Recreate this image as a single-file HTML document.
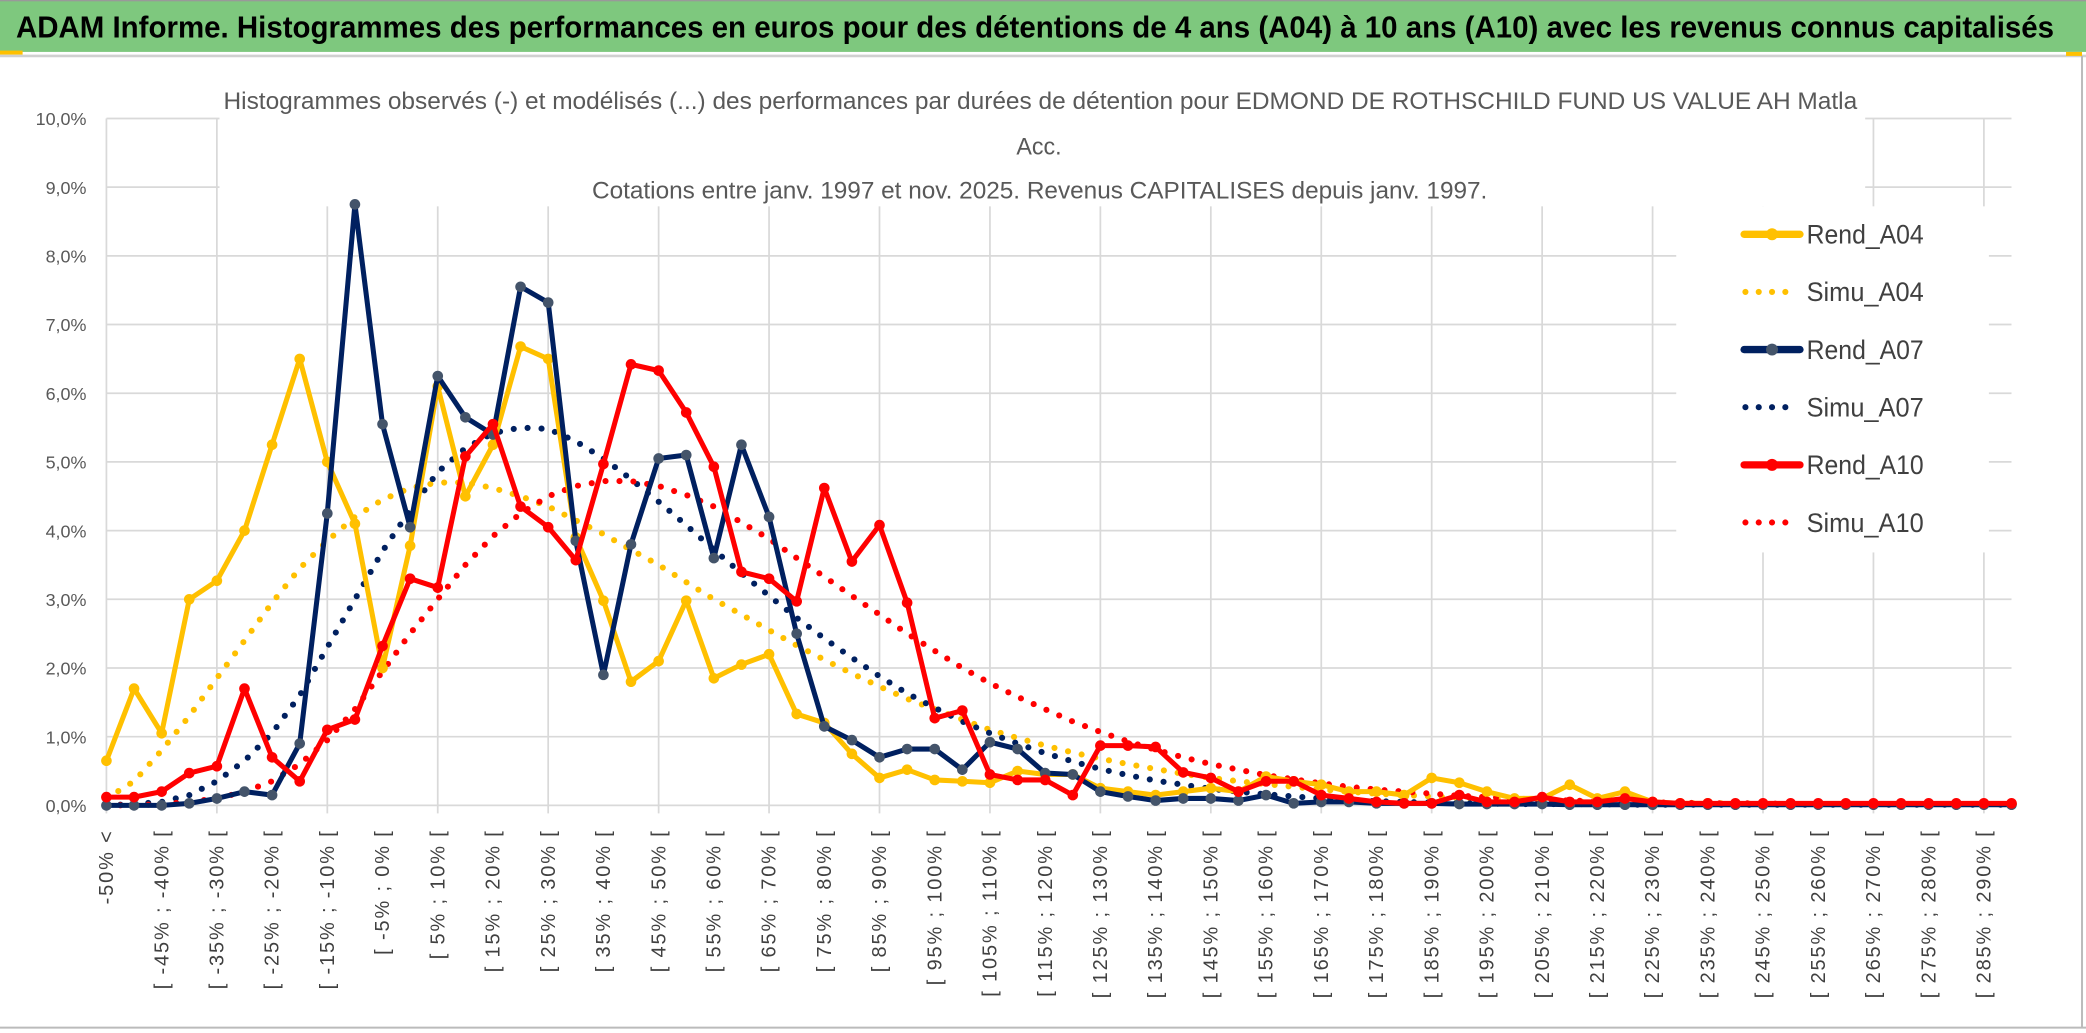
<!DOCTYPE html>
<html><head><meta charset="utf-8"><style>
html,body{margin:0;padding:0;background:#fff;}
svg{display:block;}
text{font-family:"Liberation Sans",sans-serif;}
</style></head><body>
<svg id="chart" width="2086" height="1033" viewBox="0 0 1568 776" preserveAspectRatio="none" xmlns="http://www.w3.org/2000/svg">
<rect x="0" y="0" width="1568" height="776" fill="#fff"/>
<rect x="0" y="0" width="1568" height="39" fill="#7ec87e"/>
<rect x="0" y="0" width="1568" height="1" fill="#999"/>
<line x1="0" y1="42" x2="1568" y2="42" stroke="#d0d0d0" stroke-width="2"/>
<line x1="1565" y1="42" x2="1565" y2="772" stroke="#bbb" stroke-width="1.5"/>
<line x1="0" y1="772" x2="1568" y2="772" stroke="#bbb" stroke-width="1.5"/>
<rect x="0" y="38" width="17" height="3" fill="#ffc000"/>
<rect x="1553" y="39" width="12" height="3" fill="#ffc000"/>
<text x="12" y="28" font-size="23" font-weight="bold" fill="#000" textLength="1532" lengthAdjust="spacingAndGlyphs">ADAM Informe. Histogrammes des performances en euros pour des détentions de 4 ans (A04) à 10 ans (A10) avec les revenus connus capitalisés</text>
<g id="grid"></g>
<rect x="165" y="55" width="1237" height="100" fill="#fff"/>
<text x="168" y="82" font-size="18" fill="#595959" textLength="1228" lengthAdjust="spacingAndGlyphs">Histogrammes observés (-) et modélisés (...) des performances par durées de détention pour EDMOND DE ROTHSCHILD FUND US VALUE AH Matla</text>
<text x="781" y="116" font-size="18" fill="#595959" text-anchor="middle" textLength="34" lengthAdjust="spacingAndGlyphs">Acc.</text>
<text x="445" y="149" font-size="18" fill="#595959" textLength="673" lengthAdjust="spacingAndGlyphs">Cotations entre janv. 1997 et nov. 2025. Revenus CAPITALISES depuis janv. 1997.</text>
<g id="series"></g>
<rect x="1260" y="155" width="235" height="260" fill="#fff"/>
<g id="legend"></g>
<g id="ylabels"></g>
<g id="xlabels"></g>
</svg>
<script>
const yTicks = ["0,0%","1,0%","2,0%","3,0%","4,0%","5,0%","6,0%","7,0%","8,0%","9,0%","10,0%"];
const tickValues = [0,1,2,3,4,5,6,7,8,9,10];
const categories = ["-50% <"];
for (let n = 1; n <= 69; n++) categories.push("[ " + (-55 + 5*n) + "% ; " + (-50 + 5*n) + "% [");
const rendA04 = [0.65,1.7,1.05,3.0,3.27,4.0,5.25,6.5,5.0,4.1,2.0,3.78,6.1,4.5,5.25,6.68,6.5,3.9,2.98,1.8,2.1,2.98,1.85,2.05,2.2,1.33,1.2,0.75,0.4,0.52,0.37,0.35,0.33,0.5,0.45,0.45,0.25,0.2,0.15,0.2,0.25,0.2,0.42,0.35,0.3,0.2,0.2,0.15,0.4,0.33,0.2,0.1,0.1,0.3,0.1,0.2,0.05,0.03,0.03,0.02,0.02,0.02,0.02,0.02,0.02,0.02,0.02,0.02,0.02,0.02];
const simuA04 = [0.1,0.35,0.8,1.3,1.85,2.4,2.95,3.45,3.85,4.2,4.45,4.62,4.7,4.7,4.62,4.5,4.35,4.15,3.95,3.72,3.5,3.25,3.0,2.78,2.55,2.33,2.12,1.92,1.73,1.55,1.4,1.25,1.1,0.98,0.87,0.77,0.68,0.6,0.53,0.46,0.4,0.35,0.31,0.27,0.23,0.2,0.17,0.15,0.13,0.11,0.1,0.08,0.07,0.06,0.05,0.04,0.04,0.03,0.03,0.03,0.02,0.02,0.02,0.02,0.02,0.02,0.02,0.02,0.02,0.02];
const rendA07 = [0,0,0,0.03,0.1,0.2,0.15,0.9,4.25,8.75,5.55,4.05,6.25,5.65,5.4,7.55,7.32,3.85,1.9,3.8,5.05,5.1,3.6,5.25,4.2,2.5,1.15,0.95,0.7,0.82,0.82,0.52,0.92,0.82,0.47,0.45,0.2,0.13,0.07,0.1,0.1,0.07,0.15,0.03,0.05,0.05,0.03,0.03,0.03,0.02,0.02,0.02,0.02,0.01,0.01,0.01,0.01,0.01,0.01,0.01,0.01,0.01,0.01,0.01,0.01,0.01,0.01,0.01,0.01,0.01];
const simuA07 = [0,0.02,0.05,0.15,0.35,0.65,1.05,1.6,2.3,3.0,3.7,4.3,4.85,5.2,5.42,5.5,5.48,5.3,5.05,4.75,4.42,4.08,3.72,3.38,3.05,2.73,2.43,2.15,1.88,1.63,1.42,1.22,1.05,0.9,0.76,0.64,0.53,0.44,0.36,0.3,0.24,0.2,0.16,0.13,0.1,0.08,0.06,0.05,0.04,0.03,0.03,0.02,0.02,0.02,0.02,0.01,0.01,0.01,0.01,0.01,0.01,0.01,0.01,0.01,0.01,0.01,0.01,0.01,0.01,0.01];
const rendA10 = [0.12,0.12,0.2,0.47,0.57,1.7,0.7,0.35,1.1,1.25,2.32,3.3,3.17,5.08,5.55,4.35,4.05,3.57,4.97,6.42,6.33,5.72,4.93,3.4,3.3,2.97,4.62,3.55,4.08,2.95,1.27,1.38,0.45,0.37,0.37,0.15,0.87,0.87,0.85,0.48,0.4,0.2,0.35,0.35,0.15,0.1,0.05,0.03,0.03,0.15,0.05,0.05,0.12,0.05,0.05,0.1,0.05,0.03,0.03,0.03,0.03,0.03,0.03,0.03,0.03,0.03,0.03,0.03,0.03,0.03];
const simuA10 = [0,0,0.02,0.05,0.1,0.2,0.35,0.6,0.95,1.4,1.95,2.5,3.0,3.5,3.92,4.25,4.5,4.65,4.72,4.72,4.65,4.52,4.35,4.12,3.88,3.6,3.33,3.05,2.78,2.5,2.25,2.0,1.78,1.58,1.4,1.22,1.07,0.93,0.81,0.7,0.6,0.52,0.44,0.38,0.32,0.27,0.23,0.2,0.17,0.14,0.12,0.1,0.08,0.07,0.06,0.05,0.04,0.04,0.03,0.03,0.03,0.02,0.02,0.02,0.02,0.02,0.02,0.02,0.02,0.02];
const seriesNames = ["Rend_A04","Simu_A04","Rend_A07","Simu_A07","Rend_A10","Simu_A10"];

const NS = "http://www.w3.org/2000/svg";
const X0 = 80, X1 = 1512, Y0 = 605, YTOP = 89;
function xPos(i){ return X0 + i*(X1-X0)/(categories.length-1); }
function yPos(v){ return Y0 - v*(Y0-YTOP)/10; }
function mk(tag, attrs, parent){ const e=document.createElementNS(NS,tag); for(const k in attrs) e.setAttribute(k,attrs[k]); parent.appendChild(e); return e; }

const grid = document.getElementById('grid');
tickValues.forEach(v=>{
  const l = mk('line',{x1:X0,x2:X1,y1:yPos(v),y2:yPos(v),stroke:'#d9d9d9','stroke-width':1.3},grid);
  
  
});
for (let i=0;i<categories.length;i+=4){
  const l = mk('line',{x1:xPos(i),x2:xPos(i),y1:YTOP,y2:Y0+6,stroke:'#d9d9d9','stroke-width':1.3},grid);
  
  
}

const ylab = document.getElementById('ylabels');
tickValues.forEach((v,k)=>{
  const t = mk('text',{x:65,y:yPos(v)+5,'font-size':13.5,fill:'#595959','text-anchor':'end'},ylab);
  t.textContent = yTicks[k];
  
  
});

const xlab = document.getElementById('xlabels');
categories.forEach((c,i)=>{
  if (i%2!==0 || i===69) return;
  const x = xPos(i)+5, y = 623;
  const t = mk('text',{x:x,y:y,'font-size':15,fill:'#404040','text-anchor':'end',transform:'rotate(-90 '+x+' '+y+')','letter-spacing':'1.4'},xlab);
  t.textContent = c;
  
  
});

const ser = document.getElementById('series');
function pts(arr){ return arr.map((v,i)=>xPos(i).toFixed(1)+','+yPos(v).toFixed(1)).join(' '); }
function dotted(arr,color,name){
  const p = mk('polyline',{points:pts(arr),fill:'none',stroke:color,'stroke-width':4.6,'stroke-linecap':'round','stroke-dasharray':'0 10.5'},ser);
  
  
}
function solid(arr,color,mcolor,name){
  const p = mk('polyline',{points:pts(arr),fill:'none',stroke:color,'stroke-width':3.8,'stroke-linejoin':'round'},ser);
  
  
  arr.forEach((v,i)=>{
    const c = mk('circle',{cx:xPos(i),cy:yPos(v),r:4,fill:mcolor},ser);
    
    
  });
}
dotted(simuA04,'#ffc000','simu-a04-line');
dotted(simuA07,'#002060','simu-a07-line');
dotted(simuA10,'#ff0000','simu-a10-line');
solid(rendA04,'#ffc000','#ffc000','rend-a04-line');
solid(rendA07,'#002060','#44546a','rend-a07-line');
solid(rendA10,'#ff0000','#ff0000','rend-a10-line');

const leg = document.getElementById('legend');
const legColors = ['#ffc000','#ffc000','#002060','#002060','#ff0000','#ff0000'];
const legMark = ['#ffc000',null,'#44546a',null,'#ff0000',null];
seriesNames.forEach((n,k)=>{
  const y = 176 + k*43.3;
  const g = mk('g',{},leg);
  
  
  if (k%2===0){
    mk('line',{x1:1311,x2:1353,y1:y,y2:y,stroke:legColors[k],'stroke-width':5.5,'stroke-linecap':'round'},g);
    mk('circle',{cx:1332,cy:y,r:4.5,fill:legMark[k]},g);
  } else {
    mk('line',{x1:1312,x2:1348,y1:y,y2:y,stroke:legColors[k],'stroke-width':4.6,'stroke-linecap':'round','stroke-dasharray':'0 10'},g);
  }
  const t = mk('text',{x:1358,y:y+7,'font-size':20,fill:'#404040',textLength:88,lengthAdjust:'spacingAndGlyphs'},g);
  t.textContent = n;
});
</script>
</body></html>
